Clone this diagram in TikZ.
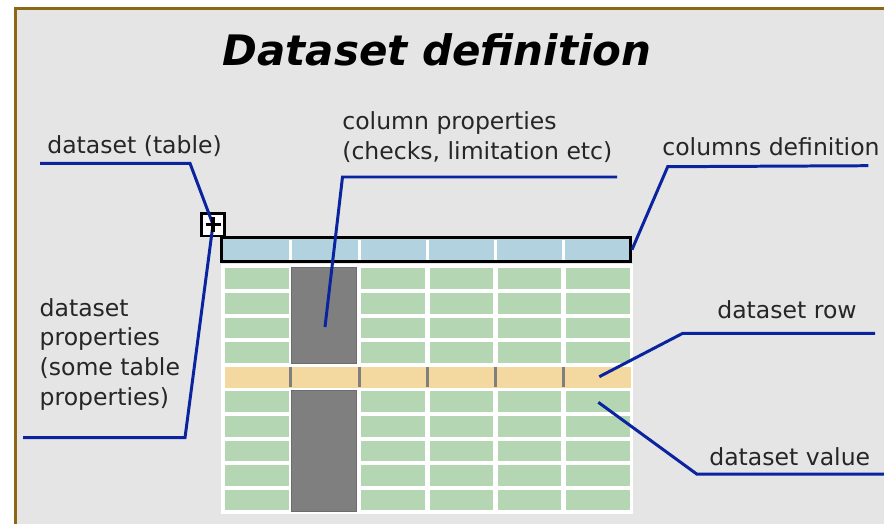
\documentclass[tikz,border=0pt]{standalone}
\usepackage{fontspec}
\setmainfont{DejaVu Sans}
\usepackage{xcolor}
\usepackage{tikz}
\usetikzlibrary{positioning}

\definecolor{framebrown}{RGB}{140,104,22}
\definecolor{panelgray}{RGB}{229,229,229}
\definecolor{headblue}{RGB}{179,210,224}
\definecolor{cellgreen}{RGB}{181,214,178}
\definecolor{rowtan}{RGB}{243,217,160}
\definecolor{colgray}{RGB}{127,127,127}
\definecolor{leadblue}{RGB}{10,36,160}

\begin{document}
\begin{tikzpicture}[x=0.02cm,y=-0.02cm,
  lbl/.style={anchor=base west,inner sep=0pt,align=left,text=black!85,
    font=\fontsize{13.4}{17}\selectfont},
  leader/.style={leadblue,line width=1.7pt},
  cell/.style={fill=cellgreen}]
  \useasboundingbox (0,0) rectangle (884,524);
  \fill[white] (0,0) rectangle (884,524);
  \fill[panelgray] (16,9) rectangle (884,524);
  \draw[framebrown,line width=1.7pt] (15.5,524) -- (15.5,8.5) -- (884,8.5);

  \node[anchor=base,inner sep=0pt,font=\fontsize{23.9}{28}\selectfont\bfseries\itshape] (title) at (437,65) {Dataset definition};

  % table body
  \fill[white] (221,264) rectangle (633,514);
  \foreach \c in {0,...,5}
  \foreach \r in {0,1,2,3,5,6,7,8,9}
  \fill[cell] (225+68.2*\c,268.3+24.6*\r) rectangle +(63.5,20.6);
  \node[fill=rowtan,inner sep=0pt,minimum width=8.12cm,minimum height=0.412cm,anchor=north west] (datarow) at (225,366.7) {};
  \foreach \c in {1,...,5}
  \fill[colgray] (225+68.2*\c-3.8,366.7) rectangle +(3,20.6);
  \filldraw[fill=colgray,draw=colgray!85!black,thin] (291.5,267.5) rectangle (356.5,363);
  \filldraw[fill=colgray,draw=colgray!85!black,thin] (291.5,390.5) rectangle (356.5,511);

  % header row
  \node[draw,fill=headblue,line width=1.7pt,inner sep=0pt,minimum width=8.176cm,minimum height=0.48cm] (header) at (426.1,249.7) {};
  \foreach \c in {1,...,5}
  \draw[white,line width=1.7pt] (225+68.2*\c-2.3,239.5) -- (225+68.2*\c-2.3,260);

  % table handle
  \node[draw,fill=white,line width=1.7pt,inner sep=0pt,minimum size=0.46cm] (plus) at (213,224.5) {};

  % labels (base = last line)
  \node[lbl] (tablbl) at (47,153) {dataset (table)};
  \node[lbl] (proplbl) at (39.3,405.7) {dataset\\properties\\(some table\\properties)};
  \node[lbl] (collbl) at (342,159.3) {column properties\\(checks, limitation etc)};
  \node[lbl] (deflbl) at (662,155) {columns definition};
  \node[lbl] (rowlbl) at (717,318) {dataset row};
  \node[lbl] (vallbl) at (709,465) {dataset value};

  % leader lines
  \coordinate (colpt) at (325,327);
  \coordinate (rowpt) at (599.3,376.7);
  \coordinate (valpt) at (598.3,402.3);
  \draw[leader] (40,163.3) -- (190,163.3) -- (plus.center);
  \draw[leader] (23,437.7) -- (185,437.7) -- (plus.center);
  \draw[leader] (617,177) -- (342.5,177) -- (colpt);
  \draw[leader] (868.3,165.7) -- (667.7,166.7) -- (header.east);
  \draw[leader] (875,333.3) -- (682.7,333.3) -- (rowpt);
  \draw[leader] (884,474) -- (696.7,474) -- (valpt);

  \draw[line width=1.8pt] (plus.center) ++(-7.5,0) -- ++(15,0);
  \draw[line width=1.8pt] (plus.center) ++(0,-7.5) -- ++(0,15);
\end{tikzpicture}
\end{document}
